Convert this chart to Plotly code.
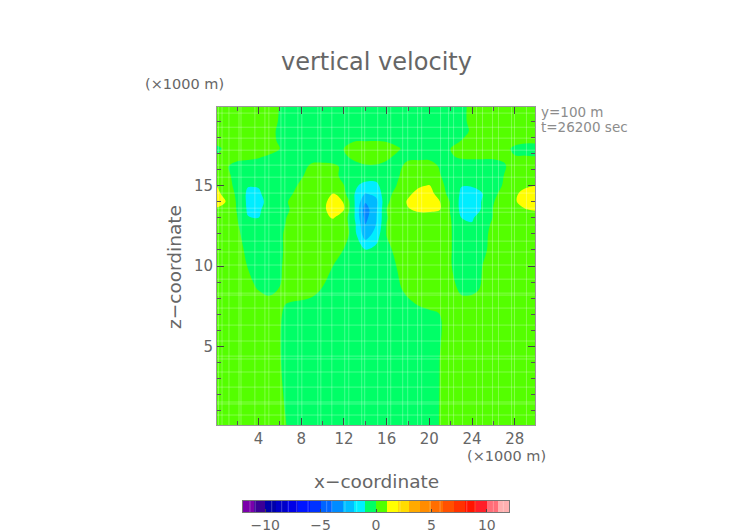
import plotly.graph_objects as go

W, H = 752, 532
PAGE = 8  # the page keeps its default body margin

# grid of the section (x, z in 1000 m)
x_km = [0.1] + list(range(1, 30)) + [29.9]
z_km = [0.1, 4, 7, 7.6, 8.1, 8.6, 10, 11, 12, 12.6, 13, 13.5, 14, 14.5, 15, 15.6, 16.2, 16.8, 17.3, 17.8, 18.4, 19, 19.9]

# vertical velocity (m/s), one row per z level
w_rows = [
    [.6,.6,.6,.6,.6,.6,.3,-.2,-.6,-.6,-.6,-.6,-.6,-.6,-.6,-.6,-.6,-.6,-.6,-.6,-.45,.05,.55,.6,.6,.6,.6,.6,.6,.6,.6],
    [.6,.6,.6,.6,.6,.55,.05,-.45,-.6,-.6,-.6,-.6,-.6,-.6,-.6,-.6,-.6,-.6,-.6,-.6,-.5,.02,.5,.6,.6,.6,.6,.6,.6,.6,.6],
    [.6,.6,.6,.6,.6,.6,.1,-.4,-.6,-.6,-.6,-.6,-.6,-.6,-.6,-.6,-.6,-.6,-.6,-.6,-.5,.02,.5,.6,.6,.6,.6,.6,.6,.6,.6],
    [.6,.6,.6,.6,.6,.6,.25,-.25,-.6,-.6,-.6,-.6,-.6,-.6,-.6,-.6,-.6,-.6,-.4,.1,.6,.6,.6,.6,.6,.6,.6,.6,.6,.6,.6],
    [.6,.6,.6,.6,.3,.05,.1,.55,.55,.05,-.45,-.6,-.6,-.6,-.6,-.6,-.6,-.45,.05,.55,.6,.6,.4,.05,.1,.4,.6,.6,.6,.6,.6],
    [.6,.6,.6,.4,-.1,-.5,.02,.5,.6,.45,-.05,-.55,-.6,-.6,-.6,-.6,-.6,-.2,.3,.6,.6,.6,.3,-.2,-.35,.15,.6,.6,.6,.6,.6],
    [.6,.6,.45,-.05,-.55,-.6,-.1,.4,.6,.6,.5,-.02,-.5,-.6,-.6,-.6,-.45,.05,.55,.6,.6,.55,.05,-.45,-.5,.02,.5,.6,.6,.6,.6],
    [.6,.6,.3,-.2,-.6,-.6,-.15,.35,.6,.6,.6,.45,-.05,-.55,-.95,-.7,-.25,.25,.6,.6,.6,.55,.05,-.45,-.6,-.2,.3,.6,.6,.6,.6],
    [.6,.6,.15,-.35,-.6,-.6,-.15,.35,.6,.6,.6,.6,.6,-.7,-2.6,-1.6,.05,.55,.6,.6,.6,.55,.05,-.45,-.6,-.25,.25,.6,.6,.6,.6],
    [.6,.6,.05,-.45,-.6,-.6,-.25,.25,.6,.6,.7,.7,.5,-.8,-3.0,-2.0,.02,.5,.7,.7,.7,.55,.05,-.6,-.95,-.35,.15,.6,.6,.6,.6],
    [.7,.5,.02,-.95,-1.0,-.6,-.3,.2,.6,.7,.85,1.05,.5,-1.0,-3.3,-2.1,-.05,.45,.7,.75,.75,.5,.02,-1.0,-1.1,-.55,.05,.55,.6,.6,.6],
    [.85,.5,-.05,-1.15,-1.1,-.7,-.45,.05,.55,.7,.9,1.2,1.0,-1.0,-3.5,-2.2,0,.5,.95,1.1,1.1,1.0,-.1,-1.25,-1.2,-.95,.05,.55,.8,.97,1.05],
    [1.4,.95,-.15,-1.2,-1.2,-.8,-.45,.15,.6,.75,.9,1.15,.98,-1.0,-2.9,-2.3,-.15,.45,1.1,1.5,1.6,1.0,-.1,-1.3,-1.3,-.95,-.05,.55,.95,1.2,1.3],
    [1.25,.6,-.2,-1.2,-1.1,-.7,-.5,-.1,.4,.7,.8,1.02,.2,-1.0,-2.05,-1.75,-.25,.25,.85,1.25,1.5,.4,-.3,-1.15,-1.15,-1.0,-.2,.3,.9,1.2,1.25],
    [.98,.25,-.2,-.95,-.95,-.65,-.5,-.3,.2,.6,.7,.55,.02,-.9,-1.2,-1.2,-.5,.05,.55,.9,1.05,.2,-.3,-.97,-.97,-.7,-.4,.1,.6,.9,1.0],
    [.6,.2,-.3,-.6,-.6,-.6,-.6,-.6,-.1,.4,.6,.25,-.25,-.6,-.7,-.7,-.6,-.1,.4,.6,.55,.05,-.45,-.6,-.6,-.6,-.5,.02,.5,.6,.6],
    [.5,.1,-.4,-.6,-.6,-.6,-.6,-.6,-.4,.25,.3,.2,-.2,-.4,-.1,-.1,-.3,-.3,.35,.45,.45,-.1,-.6,-.6,-.6,-.6,-.6,-.1,.4,.6,.6],
    [.1,.5,.35,.3,.1,-.15,-.5,-.5,-.5,-.5,-.5,-.5,-.2,.3,.4,.4,.2,-.2,-.25,-.25,-.25,-.4,-.1,.15,.2,.2,.2,.15,.05,.05,.02],
    [-.2,.2,.5,.5,.5,.4,-.01,-.5,-.6,-.6,-.6,-.5,.01,.45,.5,.5,.5,.15,-.35,-.6,-.6,-.5,.01,.5,.6,.6,.5,.3,-.2,-.3,-.3],
    [.3,.5,.6,.6,.6,.3,-.15,-.6,-.6,-.6,-.6,-.5,-.3,-.05,-.03,-.02,-.1,-.4,-.6,-.6,-.6,-.6,-.5,.02,.5,.6,.6,.5,.3,.15,.15],
    [.6,.6,.6,.6,.6,.3,-.2,-.6,-.6,-.6,-.6,-.6,-.6,-.6,-.6,-.6,-.6,-.6,-.6,-.6,-.6,-.6,-.6,-.35,.15,.6,.6,.6,.6,.6,.6],
    [.6,.6,.6,.6,.6,.4,-.1,-.6,-.6,-.6,-.6,-.6,-.6,-.6,-.6,-.6,-.6,-.6,-.6,-.6,-.6,-.6,-.6,-.25,.25,.6,.6,.6,.6,.6,.6],
    [.6,.6,.6,.6,.6,.45,-.05,-.6,-.6,-.6,-.6,-.6,-.6,-.6,-.6,-.6,-.6,-.6,-.6,-.6,-.6,-.6,-.6,-.25,.25,.6,.6,.6,.6,.6,.6],
]

# band centres of the colour key and one colour per 1 m/s band from -12 to 12
band_mid = [-11.5, -10.5, -9.5, -8.5, -7.5, -6.5, -5.5, -4.5, -3.5, -2.5, -1.5, -0.5,
            0.5, 1.5, 2.5, 3.5, 4.5, 5.5, 6.5, 7.5, 8.5, 9.5, 10.5, 11.5]
band_colors = [
    "#7a00aa", "#3c0096", "#0000aa", "#0000c8", "#0000e6", "#0014ff", "#0032ff",
    "#0064ff", "#008cff", "#00beff", "#00f0ff", "#00ff64", "#50ff00", "#ffff00", "#ffdc00",
    "#ffaa00", "#ff8c00", "#ff6e00", "#ff5000", "#ff3200", "#ff1400", "#ff1e28", "#ff6e78", "#ffb0b0",
]

# pale cell edges over the shading
edge_x = [.24, .57, 1.22, 2.16, 2.35, 3.65, 4.59, 4.96, 6.09, 6.46, 7.68, 8.05, 9.55, 9.83, 10.86, 12.07, 12.45,
          13.66, 13.94, 15.16, 16.09, 16.38, 17.5, 17.97, 18.9, 19.28, 21.05, 21.8, 22.27, 23.11, 24.42, 24.98,
          25.92, 26.48, 27.7, 27.98, 29.1]
edge_z = [.72, 1.41, 1.53, 2.46, 3.4, 4.21, 4.39, 5.33, 6.32, 7.38, 8.19, 8.31, 9.18, 10.06, 10.87, 11.55, 12.55,
          13.35, 13.6, 14.54, 15.53, 16.28, 17.21, 17.96, 18.64, 19.52]
edge_key = [-11.37, -10.9, -9.41, -8.51, -7.91, -7.15, -6.13, -4.45, -4.0, -2.8, -1.74, 2.17, 4.88, 5.78, 8.19, 8.94,
            10.59, 11.49]

x_ticks = [4, 8, 12, 16, 20, 24, 28]
z_ticks = [5, 10, 15]
bar_ticks = [-10, -5, 0, 5, 10]
bar_labels = ["\u221210", "\u22125", "0", "5", "10"]

FONT = "DejaVu Sans"
TEXT = "#666666"


def xp(px):
    return (px - PAGE) / W


def yp(py):
    return 1 - (py - PAGE) / H


def label(text, px, py, size, color=TEXT, xanchor="left", angle=0):
    return dict(text=text, x=xp(px), y=yp(py), xref="paper", yref="paper", showarrow=False, xanchor=xanchor,
                yanchor="middle", textangle=angle, font=dict(family=FONT, size=size, color=color))


# contour fill takes each band colour at the centre of its level
stops = [band_colors[0]] + band_colors + [band_colors[-1]]
n = len(stops) - 1
colorscale = [[i / n, c] for i, c in enumerate(stops)]

fig = go.Figure()
fig.add_trace(go.Contour(
    x=x_km, y=z_km, z=w_rows,
    zmin=-12, zmax=12,
    autocontour=False,
    contours=dict(start=-12, end=12, size=1, coloring="fill", showlines=False),
    line=dict(width=0, smoothing=1),
    colorscale=colorscale,
    showscale=False,
    hoverinfo="skip",
))

# cell edges
vx, vy = [], []
for e in edge_x:
    vx += [e, e, None]
    vy += [0.1, 19.9, None]
hx, hy = [], []
for e in edge_z:
    hx += [0.1, 29.9, None]
    hy += [e, e, None]
fig.add_trace(go.Scatter(x=vx + hx, y=vy + hy, mode="lines", line=dict(color="rgba(255,255,255,0.28)", width=1),
                         hoverinfo="skip", showlegend=False))

# colour key on its own small axes
key_scale = [[i / (len(band_colors) - 1), c] for i, c in enumerate(band_colors)]
fig.add_trace(go.Heatmap(x=band_mid, y=[0], z=[band_mid], xaxis="x2", yaxis="y2", zmin=-11.5, zmax=11.5,
                         colorscale=key_scale, showscale=False, hoverinfo="skip"))
kx, ky = [], []
for e in edge_key:
    kx += [e, e, None]
    ky += [-0.5, 0.5, None]
fig.add_trace(go.Scatter(x=kx, y=ky, xaxis="x2", yaxis="y2", mode="lines",
                         line=dict(color="rgba(255,255,255,0.25)", width=1), hoverinfo="skip", showlegend=False))

axis_style = dict(showgrid=False, zeroline=False, showline=True, linecolor="#999999", linewidth=1, mirror="ticks",
                  ticks="inside", ticklen=7, tickcolor="#444444", tickwidth=1,
                  tickfont=dict(family=FONT, size=15, color=TEXT))

fig.update_layout(
    width=W, height=H,
    margin=dict(l=0, r=0, t=0, b=0),
    paper_bgcolor="white", plot_bgcolor="white",
    showlegend=False,
    xaxis=dict(domain=[xp(217), xp(535)], range=[0.1, 29.9], tickvals=x_ticks,
               minor=dict(dtick=2, tick0=0, ticks="inside", ticklen=4, tickcolor="#555555", showgrid=False),
               **axis_style),
    yaxis=dict(domain=[yp(425), yp(107)], range=[0.1, 19.9], tickvals=z_ticks,
               minor=dict(dtick=1, tick0=0, ticks="inside", ticklen=4, tickcolor="#555555", showgrid=False),
               **axis_style),
    xaxis2=dict(domain=[xp(243), xp(509)], range=[-12, 12], anchor="y2", tickvals=bar_ticks, ticktext=bar_labels,
                showgrid=False, zeroline=False, showline=True, linecolor="#777777", mirror=True,
                ticks="inside", ticklen=3, tickcolor="#444444",
                tickfont=dict(family=FONT, size=14, color=TEXT)),
    yaxis2=dict(domain=[yp(512), yp(501)], range=[-0.5, 0.5], anchor="x2", showticklabels=False, ticks="",
                showgrid=False, zeroline=False, showline=True, linecolor="#777777", mirror=True),
    annotations=[
        label("vertical velocity", 376, 62, 24, xanchor="center"),
        label("(\u00d71000 m)", 143, 84, 14.5),
        label("(\u00d71000 m)", 465, 456, 14.5),
        label("x\u2212coordinate", 376, 481, 18.5, xanchor="center"),
        label("z\u2212coordinate", 174, 267, 18.5, xanchor="center", angle=-90),
        label("y=100 m", 539, 112, 13.5, color="#8c8c8c"),
        label("t=26200 sec", 539, 127, 13.5, color="#8c8c8c"),
    ],
)

fig.write_html("out.html")
